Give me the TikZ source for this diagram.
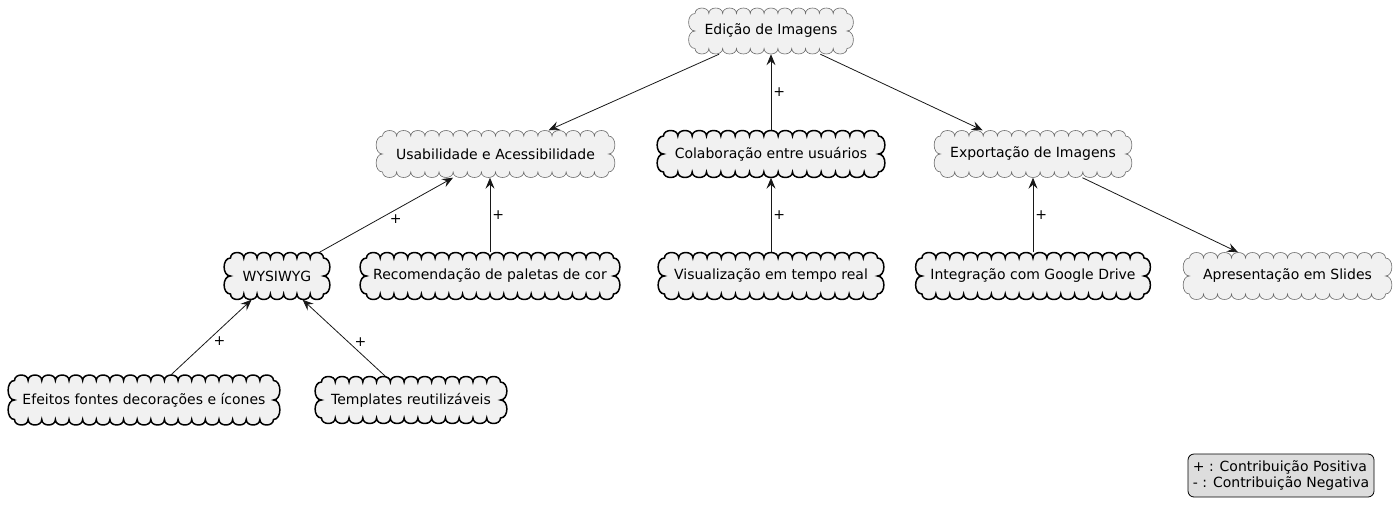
\documentclass[tikz,border=0pt]{standalone}
\usepackage{fontspec}
\setmainfont{DejaVu Sans}
\usetikzlibrary{arrows.meta}
\definecolor{cfill}{HTML}{F1F1F1}
\definecolor{lfill}{HTML}{DDDDDD}
\definecolor{thinline}{HTML}{6A6A6A}
\definecolor{edgec}{HTML}{181818}
\tikzset{
  softgoal/.style={draw=thinline, line width=0.6pt, fill=cfill},
  task/.style={draw=black, line width=1.5pt, fill=cfill},
  cnode/.style={inner sep=0pt, font=\fontsize{14}{16.5}\selectfont},
  arr/.style={draw=edgec, line width=0.8pt, -{Stealth[length=11pt,width=9pt,inset=4pt]}},
  lbl/.style={font=\fontsize{14}{16.5}\selectfont, inner sep=2pt},
}
\newcommand\mkcloud[7]{%
  \pgfmathsetmacro\xa{#3-#5/2+6.5}\pgfmathsetmacro\xb{#3+#5/2-6.5}%
  \pgfmathsetmacro\ya{#4-#6/2+5.5}\pgfmathsetmacro\yb{#4+#6/2-5.5}%
  \pgfmathtruncatemacro\nx{max(2,round((\xb-\xa)/14))}%
  \pgfmathsetmacro\sx{(\xb-\xa)/\nx}%
  \pgfmathsetmacro\sy{(\yb-\ya)/2}%
  \draw[#1] (\xa,\ya)
    \foreach \i in {1,...,\nx}{ .. controls ({\xa+(\i-1)*\sx},{\ya-7.3}) and ({\xa+\i*\sx},{\ya-7.3}) .. ({\xa+\i*\sx},\ya) }
    \foreach \j in {1,2}{ .. controls ({\xb+8.5},{\ya+(\j-1)*\sy}) and ({\xb+8.5},{\ya+\j*\sy}) .. (\xb,{\ya+\j*\sy}) }
    \foreach \i in {1,...,\nx}{ .. controls ({\xb-(\i-1)*\sx},{\yb+7.3}) and ({\xb-\i*\sx},{\yb+7.3}) .. ({\xb-\i*\sx},\yb) }
    \foreach \j in {1,2}{ .. controls ({\xa-8.5},{\yb-(\j-1)*\sy}) and ({\xa-8.5},{\yb-\j*\sy}) .. (\xa,{\yb-\j*\sy}) }
    -- cycle;
  \node[cnode, minimum width=#5pt, minimum height=#6pt] (#2) at (#3,#4) {#7};%
}
\begin{document}
\begin{tikzpicture}[x=1pt,y=-1pt]
\useasboundingbox (0,0) rectangle (1399,516);
\mkcloud{softgoal}{edicao}{771}{31}{165}{46}{Edição de Imagens}
\mkcloud{softgoal}{usab}{495.5}{154}{239}{47}{Usabilidade e Acessibilidade}
\mkcloud{task}{colab}{771}{154}{228}{47}{Colaboração entre usuários}
\mkcloud{softgoal}{export}{1033}{154}{198}{47}{Exportação de Imagens}
\mkcloud{task}{wysiwyg}{277}{276}{106}{47}{WYSIWYG}
\mkcloud{task}{recom}{490}{276}{260}{47}{Recomendação de paletas de cor}
\mkcloud{task}{visual}{771}{276}{226}{47}{Visualização em tempo real}
\mkcloud{task}{integ}{1033}{276}{235}{47}{Integração com Google Drive}
\mkcloud{softgoal}{apres}{1287.5}{276}{209}{47}{Apresentação em Slides}
\mkcloud{task}{efeitos}{144}{400}{272}{50}{Efeitos fontes decorações e ícones}
\mkcloud{task}{templ}{411}{400}{192}{47}{Templates reutilizáveis}

\draw[arr] (edicao) -- (usab);
\draw[arr] (edicao) -- (export);
\draw[arr] (colab) -- node[lbl,right,pos=0.5]{+} (edicao);
\draw[arr] (wysiwyg) -- node[lbl,right=8pt,pos=0.45]{+} (usab);
\draw[arr] (recom.north) -- node[lbl,right,pos=0.5]{+} (recom.north |- usab.south);
\draw[arr] (visual) -- node[lbl,right,pos=0.5]{+} (colab);
\draw[arr] (integ) -- node[lbl,right,pos=0.5]{+} (export);
\draw[arr] (export) -- (apres);
\draw[arr] (efeitos) -- node[lbl,right=4pt,pos=0.45]{+} (wysiwyg);
\draw[arr] (templ) -- node[lbl,right=4pt,pos=0.45]{+} (wysiwyg);

\node[draw=black, line width=0.8pt, fill=lfill, rounded corners=6pt, align=left,
      font=\fontsize{14}{16.5}\selectfont, inner xsep=4pt, inner ysep=3pt,
      minimum width=186pt, minimum height=43pt] (legend) at (1281,475.5)
  {+ : Contribuição Positiva\\- : Contribuição Negativa};
\end{tikzpicture}
\end{document}
